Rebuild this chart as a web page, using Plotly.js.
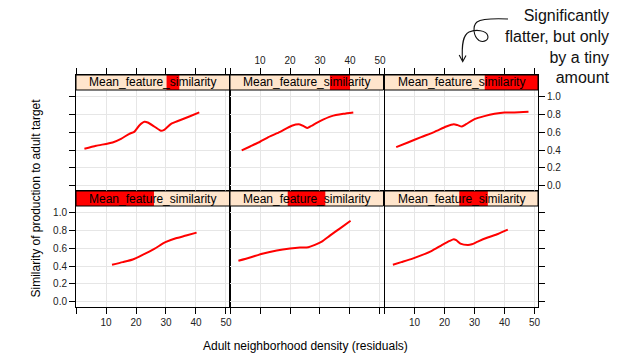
<!DOCTYPE html>
<html>
<head>
<meta charset="utf-8">
<script src="https://cdn.plot.ly/plotly-3.0.1.min.js"></script>
<style>
  html, body { margin: 0; padding: 0; background: #fff; }
  #chart { width: 634px; height: 353px; }
</style>
</head>
<body>
<div id="chart"></div>
<script>
// Partial-effect curves: similarity vs. adult neighborhood density,
// conditioned on six overlapping intervals of Mean_feature_similarity.
const densityP1 = [12, 15.6, 18.9, 22.2, 26.1, 29.8, 33.3, 36.7, 40.2];
const similarityP1 = [0.415, 0.444, 0.474, 0.526, 0.593, 0.667, 0.711, 0.741, 0.774];

const densityP2 = [2.8, 6.7, 11.1, 15.6, 20, 23.3, 26.1, 28.3, 30.6, 33.3, 36.7, 40.2];
const similarityP2 = [0.459, 0.496, 0.541, 0.574, 0.596, 0.607, 0.611, 0.637, 0.674, 0.741, 0.822, 0.907];

const densityP3 = [2.8, 5.6, 8.9, 12.2, 15.6, 18.9, 21.7, 23.1, 23.9, 25.3, 27.8, 29.1, 31.1, 34.4, 37.8, 41.1];
const similarityP3 = [0.415, 0.444, 0.478, 0.519, 0.567, 0.630, 0.681, 0.700, 0.689, 0.652, 0.637, 0.644, 0.674, 0.719, 0.759, 0.807];

const densityP4 = [2.8, 6.7, 12.2, 15, 17.8, 19.4, 21.1, 22.8, 23.9, 26.1, 28.3, 29.4, 31.7, 34.4, 37.8, 41.1];
const similarityP4 = [0.414, 0.448, 0.485, 0.526, 0.582, 0.604, 0.675, 0.716, 0.709, 0.664, 0.616, 0.627, 0.694, 0.731, 0.776, 0.821];

const densityP5 = [3.9, 6.7, 10, 12.8, 16.7, 20.6, 23.3, 24.7, 25.8, 27.2, 30, 33.9, 37.8, 41.1];
const similarityP5 = [0.396, 0.440, 0.493, 0.545, 0.604, 0.672, 0.687, 0.664, 0.646, 0.672, 0.724, 0.780, 0.806, 0.821];

const densityP6 = [3.9, 7.8, 12.2, 16.7, 20.6, 23.1, 24.4, 25.8, 27.2, 30, 33.3, 36.7, 40, 43.3, 48];
const similarityP6 = [0.433, 0.485, 0.545, 0.604, 0.664, 0.690, 0.679, 0.664, 0.690, 0.746, 0.780, 0.806, 0.821, 0.821, 0.828];

// Shingle intervals of the conditioning variable (fraction of its range)
const shingleLo = [0.000, 0.376, 0.487, 0.590, 0.651, 0.653];
const shingleHi = [0.508, 0.621, 0.673, 0.673, 0.782, 1.000];

const stripLabel = 'Mean_feature_similarity';
const xTickVals = [0, 10, 20, 30, 40, 50];
const xTickText = ['', '10', '20', '30', '40', '50'];
const yTickVals = [0, 0.2, 0.4, 0.6, 0.8, 1.0];
const yTickText = ['0.0', '0.2', '0.4', '0.6', '0.8', '1.0'];
const xTitle = 'Adult neighborhood density (residuals)';
const yTitle = 'Similarity of production to adult target';
const noteText = 'Significantly<br>flatter, but only<br>by a tiny<br>amount';

const panelX = [densityP1, densityP2, densityP3, densityP4, densityP5, densityP6];
const panelY = [similarityP1, similarityP2, similarityP3, similarityP4, similarityP5, similarityP6];

// ---- geometry (pixels) ----
const W = 634, H = 353;
const colPx = [[76, 229.5], [230, 383.5], [384.5, 538]];
// each row: [strip top, panel top, panel bottom]
const rowPx = { bottom: [191, 206, 307], top: [75, 90, 191] };
const xRange = [0, 51.17];
const yMin = -0.058, yPanelTop = 1.072;
const pxPerUnit = 101 / (yPanelTop - yMin);
const yStripTop = yPanelTop + 15 / pxPerUnit;
const stripFrac = (yPanelTop - yMin) / (yStripTop - yMin);

const px2x = p => p / W;
const px2y = p => 1 - p / H;

const FONT = 'Liberation Sans, Arial, Helvetica, sans-serif';
const tickFont = { family: FONT, size: 10, color: '#222' };

const data = [];
const layout = {
  width: W, height: H,
  margin: { l: 0, r: 0, t: 0, b: 0 },
  paper_bgcolor: '#fff', plot_bgcolor: '#fff',
  showlegend: false,
  font: { family: FONT, color: '#000' },
  shapes: [], annotations: []
};

for (let i = 0; i < 6; i++) {
  const n = i + 1;
  const sfx = n === 1 ? '' : String(n);
  const col = i % 3;
  const isTop = i >= 3;
  const r = isTop ? rowPx.top : rowPx.bottom;

  data.push({
    type: 'scatter', mode: 'lines',
    x: panelX[i], y: panelY[i],
    xaxis: 'x' + sfx, yaxis: 'y' + sfx,
    line: { color: '#ff0000', width: 2, shape: 'spline', smoothing: 0.6 },
    hoverinfo: 'skip'
  });

  layout['xaxis' + sfx] = {
    domain: [px2x(colPx[col][0]), px2x(colPx[col][1])],
    range: xRange, anchor: 'y' + sfx,
    tickmode: 'array', tickvals: xTickVals, ticktext: xTickText,
    showgrid: true, gridcolor: '#e6e6e6', gridwidth: 1, zeroline: false,
    showline: true, linecolor: '#000', linewidth: 1, mirror: true,
    ticks: 'outside', ticklen: 6, tickcolor: '#000', tickwidth: 1,
    side: isTop ? 'top' : 'bottom',
    showticklabels: isTop ? col === 1 : col !== 1,
    tickfont: tickFont, fixedrange: true
  };

  layout['yaxis' + sfx] = {
    domain: [px2y(r[2]), px2y(r[0])],
    range: [yMin, yStripTop], anchor: 'x' + sfx,
    tickmode: 'array', tickvals: yTickVals, ticktext: yTickText,
    showgrid: true, gridcolor: '#e6e6e6', gridwidth: 1, zeroline: false,
    showline: true, linecolor: '#000', linewidth: 1, mirror: true,
    ticks: col === 1 ? '' : 'outside', ticklen: 6, tickcolor: '#000', tickwidth: 1,
    side: col === 2 ? 'right' : 'left',
    showticklabels: (col === 0 && !isTop) || (col === 2 && isTop),
    tickfont: tickFont, fixedrange: true
  };

  const xd = 'x' + sfx + ' domain', yd = 'y' + sfx + ' domain';
  // strip background, shingle level, and border
  layout.shapes.push({
    type: 'rect', xref: xd, yref: yd, x0: 0, x1: 1, y0: stripFrac, y1: 1,
    fillcolor: '#ffe5cc', line: { width: 0 }, layer: 'above'
  });
  layout.shapes.push({
    type: 'rect', xref: xd, yref: yd, x0: shingleLo[i], x1: shingleHi[i], y0: stripFrac, y1: 1,
    fillcolor: '#ff0000', line: { width: 0 }, layer: 'above'
  });
  layout.shapes.push({
    type: 'rect', xref: xd, yref: yd, x0: 0, x1: 1, y0: stripFrac, y1: 1,
    fillcolor: 'rgba(0,0,0,0)', line: { color: '#000', width: 1 }, layer: 'above'
  });
  layout.annotations.push({
    xref: xd, yref: yd, x: 0.5, y: (stripFrac + 1) / 2,
    text: stripLabel, showarrow: false,
    xanchor: 'center', yanchor: 'middle',
    font: { family: FONT, size: 12, color: '#000' }
  });
}

// shared axis titles
layout.annotations.push({
  xref: 'paper', yref: 'paper', x: px2x(305), y: px2y(346),
  text: xTitle, showarrow: false, xanchor: 'center', yanchor: 'middle',
  font: { family: FONT, size: 12, color: '#000' }
});
layout.annotations.push({
  xref: 'paper', yref: 'paper', x: px2x(35), y: px2y(198.5),
  text: yTitle, showarrow: false, textangle: -90, xanchor: 'center', yanchor: 'middle',
  font: { family: FONT, size: 12, color: '#000' }
});

// hand-written note with a curly arrow pointing at the top-right panel
layout.annotations.push({
  xref: 'paper', yref: 'paper', x: px2x(612), y: px2y(46.5),
  text: noteText, showarrow: false, xanchor: 'right', yanchor: 'middle', align: 'right',
  font: { family: FONT, size: 16, color: '#111' }
});
function pathFromPx(cmds) {
  return cmds.map(c => {
    if (typeof c === 'string') return c;
    return px2x(c[0]).toFixed(5) + ',' + px2y(c[1]).toFixed(5);
  }).join(' ');
}
layout.shapes.push({
  type: 'path', xref: 'paper', yref: 'paper', layer: 'above',
  path: pathFromPx([
    'M', [508, 19],
    'C', [496, 18.5], [482, 18.5], [477, 22],
    'C', [472.5, 26], [473, 36], [479, 40.5],
    'C', [484, 43], [489.5, 40], [487.5, 35],
    'C', [486, 30.5], [476, 29], [469, 32],
    'C', [463, 35], [461.5, 44], [462.5, 60.5]
  ]),
  line: { color: '#111', width: 1.1 }, fillcolor: 'rgba(0,0,0,0)'
});
layout.shapes.push({
  type: 'path', xref: 'paper', yref: 'paper', layer: 'above',
  path: pathFromPx(['M', [459.2, 55], 'L', [462.7, 61.5], 'L', [466, 55.5]]),
  line: { color: '#111', width: 1.1 }, fillcolor: 'rgba(0,0,0,0)'
});

Plotly.newPlot('chart', data, layout, { staticPlot: true, displayModeBar: false });
</script>
</body>
</html>
